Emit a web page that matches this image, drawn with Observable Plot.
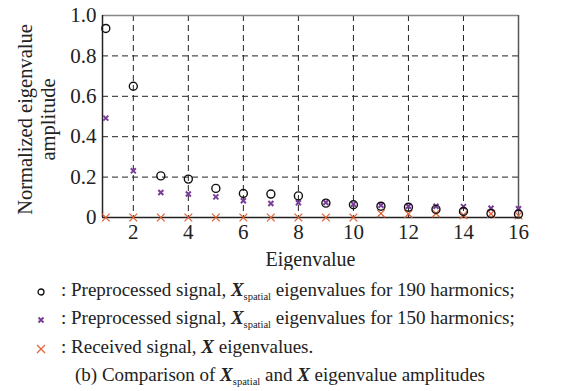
<!DOCTYPE html>
<html>
<head>
<meta charset="utf-8">
<script src="https://cdn.jsdelivr.net/npm/d3@7"></script>
<script src="https://cdn.jsdelivr.net/npm/@observablehq/plot@0.6"></script>
<style>
  html, body { margin:0; padding:0; background:#fff; }
  body { width:580px; height:391px; overflow:hidden; font-family:"Liberation Serif","Times New Roman",serif; color:#222; }
  #chart svg { display:block; }
  .leg { position:absolute; left:0; font-size:19px; white-space:nowrap; line-height:1; }
  .leg svg { vertical-align:middle; }
  .X { font-weight:bold; font-style:italic; }
  .sub { font-size:10.5px; position:relative; top:4px; }
  .cap { position:absolute; left:0; width:560px; text-align:center; font-size:19px; line-height:1; white-space:nowrap; }
</style>
</head>
<body>
<div id="chart"></div>
<div class="leg" style="top:280px;left:34px;"><svg width="14" height="14"><circle cx="7" cy="7" r="3" fill="none" stroke="#111" stroke-width="1.3"/></svg><span style="margin-left:13px">: Preprocessed signal, <span class="X">X</span><span class="sub">spatial</span> eigenvalues for 190 harmonics;</span></div>
<div class="leg" style="top:308px;left:34px;"><svg width="14" height="14"><path d="M4.5 4.5L9.5 9.5M9.5 4.5L4.5 9.5" stroke="#7a3d98" stroke-width="2"/></svg><span style="margin-left:13px">: Preprocessed signal, <span class="X">X</span><span class="sub">spatial</span> eigenvalues for 150 harmonics;</span></div>
<div class="leg" style="top:337px;left:34px;"><svg width="14" height="14"><path d="M3 3L11 11M11 3L3 11" stroke="#e0653a" stroke-width="1.3"/></svg><span style="margin-left:13px">: Received signal, <span class="X">X</span> eigenvalues.</span></div>
<div class="cap" style="top:365px;">(b) Comparison of <span class="X">X</span><span class="sub">spatial</span> and <span class="X">X</span> eigenvalue amplitudes</div>
<script>
const eigIndex = [1,2,3,4,5,6,7,8,9,10,11,12,13,14,15,16];
const amp190 = [0.936,0.650,0.206,0.190,0.144,0.119,0.116,0.107,0.071,0.063,0.056,0.051,0.040,0.030,0.020,0.017];
const amp150 = [0.492,0.231,0.124,0.116,0.102,0.083,0.069,0.073,0.074,0.066,0.061,0.056,0.056,0.054,0.046,0.043];
const ampRx  = [0,0,0,0,0,0,0,0,0,0,0.020,0.018,0.020,0.012,0.018,0.010];
const xTicks = [2,4,6,8,10,12,14,16];
const yTicks = [0,0.2,0.4,0.6,0.8,1.0];
const gridX = [2,4,6,8,10,12,14];
const gridY = [0.2,0.4,0.6,0.8];

const d190 = eigIndex.map((e,i)=>({e, v:amp190[i]}));
const d150 = eigIndex.map((e,i)=>({e, v:amp150[i]}));
const dRx  = eigIndex.map((e,i)=>({e, v:ampRx[i]}));
const FF = "Liberation Serif";

const chart = Plot.plot({
  width:580, height:270,
  marginLeft:102, marginRight:62, marginTop:15, marginBottom:53,
  x:{domain:[0.88,16]},
  y:{domain:[0,1]},
  style:{fontFamily:"'Liberation Serif', 'Times New Roman', serif", fontSize:"20px", color:"#222", background:"#fff"},
  marks:[
    Plot.ruleX(gridX, {stroke:"#222", strokeWidth:1, strokeDasharray:"6,4"}),
    Plot.ruleY(gridY, {stroke:"#222", strokeWidth:1, strokeDasharray:"6,4"}),
    Plot.ruleY([1], {stroke:"#888", strokeWidth:1.5}),
    Plot.ruleX([16], {stroke:"#555", strokeWidth:1.5}),
    Plot.ruleX([0.88], {stroke:"#222", strokeWidth:1.5}),
    Plot.ruleY([0], {stroke:"#222", strokeWidth:1.5}),
    Plot.axisX(xTicks, {tickSize:0, tickPadding:7, label:null, fontSize:21, fontFamily:FF}),
    Plot.axisY(yTicks, {tickSize:0, tickPadding:6, label:null, fontSize:21, fontFamily:FF, tickFormat:d => d===0 ? "0" : d.toFixed(1)}),
    Plot.text(["Eigenvalue"], {frameAnchor:"bottom", dy:42, fontSize:20, fontFamily:FF, lineAnchor:"middle"}),
    Plot.text(["Normalized eigenvalue\namplitude"], {frameAnchor:"left", dx:-66, dy:3, rotate:-90, fontSize:20.5, fontFamily:FF, lineHeight:1.1, textAnchor:"middle", lineAnchor:"middle"}),
    Plot.dot(dRx, {x:"e", y:"v", symbol:"times", r:3.6, stroke:"#e0653a", strokeWidth:1.3}),
    Plot.dot(d150, {x:"e", y:"v", symbol:"times", r:2.4, stroke:"#7a3d98", strokeWidth:2}),
    Plot.dot(d190, {x:"e", y:"v", symbol:"circle", r:4, stroke:"#111", fill:"none", strokeWidth:1.4})
  ]
});
document.getElementById("chart").appendChild(chart);
</script>
</body>
</html>
